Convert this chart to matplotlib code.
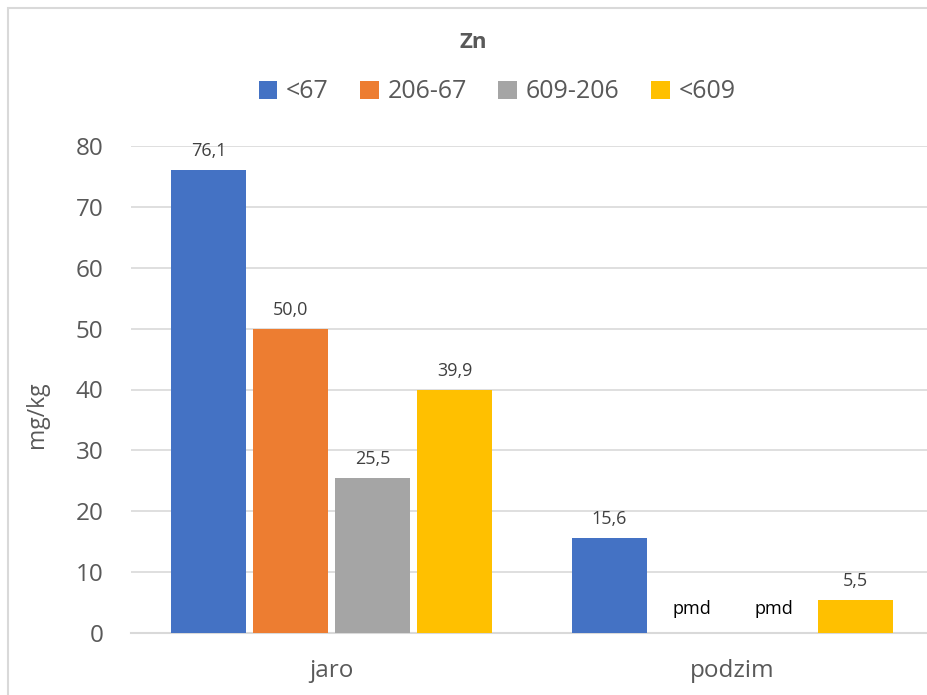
import numpy as np
import matplotlib.pyplot as plt
from matplotlib.patches import Rectangle

plt.rcParams['font.family'] = ['Open Sans', 'DejaVu Sans']

# Zn content per season and distance class
seasons = ['jaro', 'podzim']
classes = ['<67', '206-67', '609-206', '<609']
values = {
    '<67': [76.1, 15.6],
    '206-67': [50.0, np.nan],
    '609-206': [25.5, np.nan],
    '<609': [39.9, 5.5],
}
colors = ['#4472C4', '#ED7D31', '#A5A5A5', '#FFC000']
missing_label = 'pmd'
yticks = [0, 10, 20, 30, 40, 50, 60, 70, 80]

txt = '#595959'

fig = plt.figure(figsize=(9.27, 6.95), dpi=100)
# plot area runs a bit past the right edge of the image
ax = fig.add_axes([131 / 927, 62 / 695, 802 / 927, 487 / 695])

x = np.arange(len(seasons))
width = 0.187
step = 0.2045
for i, (name, col) in enumerate(zip(classes, colors)):
    pos = x + (i - 1.5) * step
    vals = np.array(values[name], dtype=float)
    ax.bar(pos, np.nan_to_num(vals), width, color=col, label=name, zorder=3)
    for p, v in zip(pos, vals):
        if np.isnan(v):
            ax.annotate(missing_label, (p, 0), xytext=(0, 17), textcoords='offset points',
                        ha='center', va='center', fontsize=13, color='black')
        else:
            ax.annotate(f'{v:.1f}'.replace('.', ','), (p, v), xytext=(0, 13.5),
                        textcoords='offset points', ha='center', va='center',
                        fontsize=13, color='#404040')

ax.set_xlim(-0.5, 1.5)
ax.set_ylim(0, 80)
ax.set_yticks(yticks)
ax.set_xticks(x)
ax.set_xticklabels(seasons)
ax.tick_params(axis='y', length=0, pad=20, labelsize=17.5, labelcolor=txt)
ax.tick_params(axis='x', length=0, pad=19, labelsize=17.5, labelcolor=txt)
ax.grid(axis='y', color='#d9d9d9', lw=1.2, zorder=0)
for s in ['top', 'right', 'left']:
    ax.spines[s].set_visible(False)
ax.spines['bottom'].set_color('#d9d9d9')
ax.spines['bottom'].set_linewidth(1.5)

fig.text(37 / 927, 1 - 415 / 695, 'mg/kg', rotation=90, ha='center', va='center',
         fontsize=16.5, color=txt)
fig.text(473 / 927, 1 - 42 / 695, 'Zn', ha='center', va='center',
         fontsize=16, fontweight='bold', color=txt)

leg = fig.legend(loc='center', bbox_to_anchor=(497 / 927, 1 - 92 / 695), ncol=4,
                 frameon=False, fontsize=18, handlelength=0.75, handleheight=0.75,
                 handletextpad=0.35, columnspacing=1.25)
for t in leg.get_texts():
    t.set_color(txt)

# chart border
fig.add_artist(Rectangle((8 / 927, -0.1), 2, 1 - 8 / 695 + 0.1, transform=fig.transFigure,
                         fill=False, edgecolor='#d9d9d9', lw=1.5))

fig.savefig('out.png', dpi=100)
